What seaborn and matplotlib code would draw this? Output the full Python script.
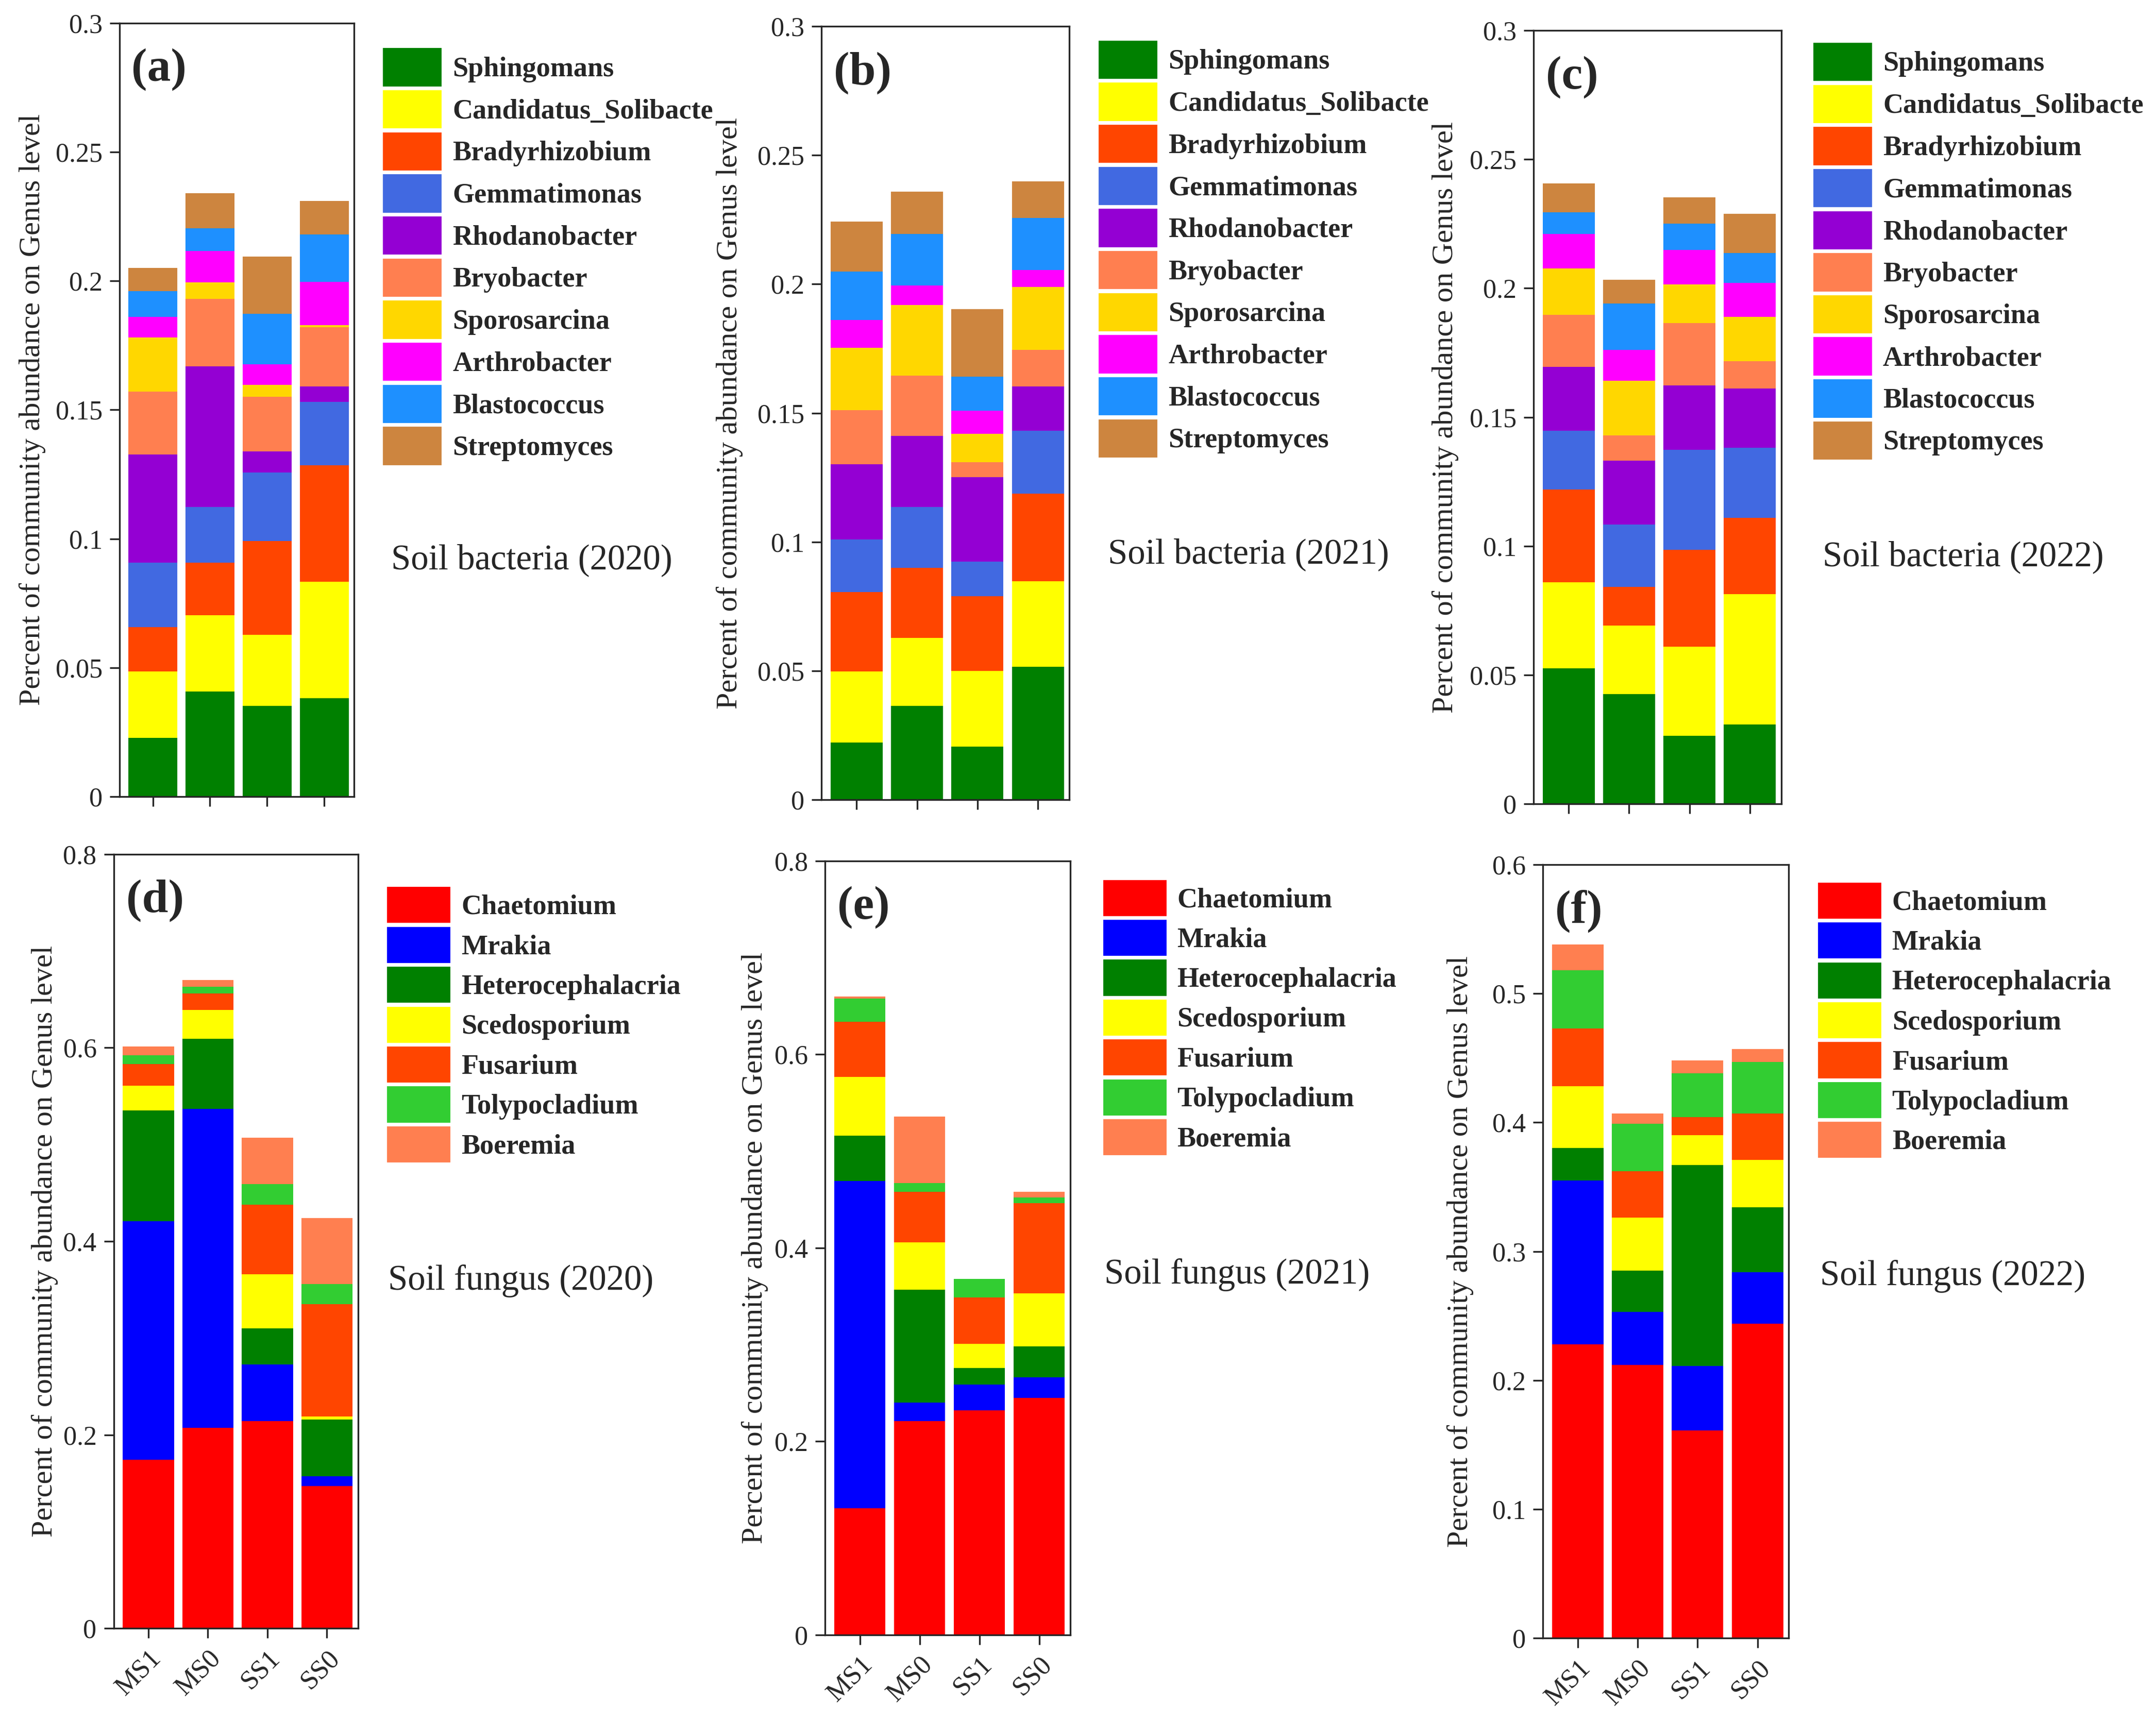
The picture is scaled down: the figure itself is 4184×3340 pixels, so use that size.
import pandas as pd
import matplotlib.pyplot as plt
import seaborn as sns
from matplotlib.patches import Patch
from matplotlib.ticker import FuncFormatter, MultipleLocator

samples = ['MS1', 'MS0', 'SS1', 'SS0']

bacteria = ['Sphingomans', 'Candidatus_Solibacte', 'Bradyrhizobium', 'Gemmatimonas',
            'Rhodanobacter', 'Bryobacter', 'Sporosarcina', 'Arthrobacter',
            'Blastococcus', 'Streptomyces']
bacteria_colors = ['#008000', '#FFFF00', '#FF4500', '#4169E1', '#9400D3',
                   '#FF7F50', '#FFD700', '#FF00FF', '#1E90FF', '#CD853F']

fungi = ['Chaetomium', 'Mrakia', 'Heterocephalacria', 'Scedosporium',
         'Fusarium', 'Tolypocladium', 'Boeremia']
fungi_colors = ['#FF0000', '#0000FF', '#008000', '#FFFF00',
                '#FF4500', '#32CD32', '#FF7F50']

# rows = genus, columns = samples (MS1, MS0, SS1, SS0)
bact_2020 = [
    [0.0228, 0.0408, 0.0351, 0.0381],
    [0.0257, 0.0296, 0.0277, 0.0453],
    [0.0172, 0.0204, 0.0363, 0.0451],
    [0.0251, 0.0216, 0.0267, 0.0245],
    [0.0418, 0.0544, 0.0080, 0.0061],
    [0.0244, 0.0262, 0.0212, 0.0230],
    [0.0210, 0.0065, 0.0047, 0.0008],
    [0.0080, 0.0122, 0.0080, 0.0168],
    [0.0100, 0.0088, 0.0195, 0.0183],
    [0.0090, 0.0135, 0.0223, 0.0131],
]
bact_2021 = [
    [0.0222, 0.0363, 0.0206, 0.0516],
    [0.0276, 0.0265, 0.0294, 0.0332],
    [0.0308, 0.0271, 0.0289, 0.0339],
    [0.0204, 0.0237, 0.0135, 0.0245],
    [0.0291, 0.0275, 0.0328, 0.0171],
    [0.0210, 0.0235, 0.0057, 0.0143],
    [0.0243, 0.0273, 0.0111, 0.0243],
    [0.0106, 0.0076, 0.0089, 0.0065],
    [0.0188, 0.0200, 0.0133, 0.0202],
    [0.0195, 0.0163, 0.0261, 0.0142],
]
bact_2022 = [
    [0.0526, 0.0426, 0.0265, 0.0308],
    [0.0333, 0.0265, 0.0345, 0.0506],
    [0.0361, 0.0151, 0.0375, 0.0296],
    [0.0228, 0.0241, 0.0388, 0.0271],
    [0.0247, 0.0249, 0.0250, 0.0230],
    [0.0202, 0.0098, 0.0241, 0.0106],
    [0.0179, 0.0212, 0.0151, 0.0171],
    [0.0135, 0.0120, 0.0133, 0.0133],
    [0.0083, 0.0179, 0.0102, 0.0116],
    [0.0113, 0.0092, 0.0102, 0.0151],
]
fung_2020 = [
    [0.174, 0.207, 0.214, 0.147],
    [0.247, 0.330, 0.059, 0.010],
    [0.114, 0.072, 0.037, 0.059],
    [0.026, 0.030, 0.056, 0.003],
    [0.022, 0.017, 0.072, 0.116],
    [0.009, 0.007, 0.021, 0.021],
    [0.009, 0.007, 0.048, 0.068],
]
fung_2021 = [
    [0.131, 0.221, 0.232, 0.245],
    [0.338, 0.019, 0.027, 0.021],
    [0.047, 0.117, 0.017, 0.032],
    [0.061, 0.049, 0.025, 0.055],
    [0.057, 0.052, 0.048, 0.093],
    [0.024, 0.009, 0.019, 0.006],
    [0.002, 0.069, 0.000, 0.006],
]
fung_2022 = [
    [0.228, 0.212, 0.161, 0.244],
    [0.127, 0.041, 0.050, 0.040],
    [0.025, 0.032, 0.156, 0.050],
    [0.048, 0.041, 0.023, 0.037],
    [0.045, 0.036, 0.014, 0.036],
    [0.045, 0.037, 0.034, 0.040],
    [0.020, 0.008, 0.010, 0.010],
]

sns.set_style('ticks')
plt.rcParams['font.family'] = ['Liberation Serif', 'DejaVu Serif']
plt.rcParams['axes.linewidth'] = 0.8

fig = plt.figure(figsize=(4184 / 300, 3340 / 300), dpi=300)


def stacked_panel(rect, data, genera, colors, ymax, ystep, tag, title,
                  leg_xy, txt_xy, ylab_x, show_xlabels, handlelength, handleheight):
    ax = fig.add_axes(rect)
    df = pd.DataFrame(data, index=genera, columns=samples)
    cum = df.cumsum()
    # draw tallest cumulative layer first, smaller ones on top
    for g, c in reversed(list(zip(genera, colors))):
        sns.barplot(x=samples, y=cum.loc[g].values, color=c, width=0.86,
                    saturation=1, linewidth=0, errorbar=None, ax=ax)
    ax.set_xlim(-0.58, 3.52)
    ax.set_ylim(0, ymax)
    ax.yaxis.set_major_locator(MultipleLocator(ystep))
    ax.yaxis.set_major_formatter(FuncFormatter(lambda v, p: f'{v:g}'))
    ax.tick_params(direction='out', length=4.5, width=0.8, labelsize=12.5)
    ax.set_ylabel('Percent of community abundance on Genus level', fontsize=14)
    ax.yaxis.set_label_coords(ylab_x, 0.5)
    ax.set_xlabel('')
    ax.set_xticks(range(len(samples)))
    if show_xlabels:
        ax.set_xticklabels(samples, rotation=45, ha='right', rotation_mode='anchor', fontsize=12.5)
    else:
        ax.set_xticklabels([])
    for s in ax.spines.values():
        s.set_visible(True)
        s.set_linewidth(0.8)
    ax.text(0.05, 0.94, tag, transform=ax.transAxes, fontsize=22,
            fontweight='bold', ha='left', va='center')
    ax.text(txt_xy[0], txt_xy[1], title, transform=ax.transAxes, fontsize=16.5,
            ha='left', va='center')
    handles = [Patch(facecolor=c, edgecolor='white', linewidth=1.0, label=g)
               for g, c in zip(genera, colors)]
    ax.legend(handles=handles, loc='upper left', bbox_to_anchor=leg_xy,
              frameon=False, borderpad=0, borderaxespad=0, handlelength=handlelength,
              handleheight=handleheight, labelspacing=0.06, handletextpad=0.35,
              prop={'weight': 'bold', 'size': 13})
    return ax


stacked_panel([0.0555, 0.5371, 0.1087, 0.4495], bact_2020, bacteria, bacteria_colors,
              0.3, 0.05, '(a)', 'Soil bacteria (2020)', (1.119, 0.969), (1.158, 0.306),
              -0.315, False, 2.18, 1.85)
stacked_panel([0.381, 0.5353, 0.115, 0.4494], bact_2021, bacteria, bacteria_colors,
              0.3, 0.05, '(b)', 'Soil bacteria (2021)', (1.114, 0.983), (1.156, 0.317),
              -0.317, False, 2.18, 1.85)
stacked_panel([0.7113, 0.5329, 0.1149, 0.4494], bact_2022, bacteria, bacteria_colors,
              0.3, 0.05, '(c)', 'Soil bacteria (2022)', (1.125, 0.9855), (1.166, 0.319),
              -0.301, False, 2.18, 1.85)
stacked_panel([0.0528, 0.0538, 0.1132, 0.4499], fung_2020, fungi, fungi_colors,
              0.8, 0.2, '(d)', 'Soil fungus (2020)', (1.116, 0.959), (1.124, 0.449),
              -0.227, True, 2.34, 1.73)
stacked_panel([0.3827, 0.0501, 0.1137, 0.4496], fung_2021, fungi, fungi_colors,
              0.8, 0.2, '(e)', 'Soil fungus (2021)', (1.130, 0.977), (1.139, 0.465),
              -0.231, True, 2.34, 1.73)
stacked_panel([0.7156, 0.0481, 0.1140, 0.4496], fung_2022, fungi, fungi_colors,
              0.6, 0.1, '(f)', 'Soil fungus (2022)', (1.115, 0.978), (1.128, 0.468),
              -0.282, True, 2.34, 1.73)

fig.savefig('out.png', dpi=300)
